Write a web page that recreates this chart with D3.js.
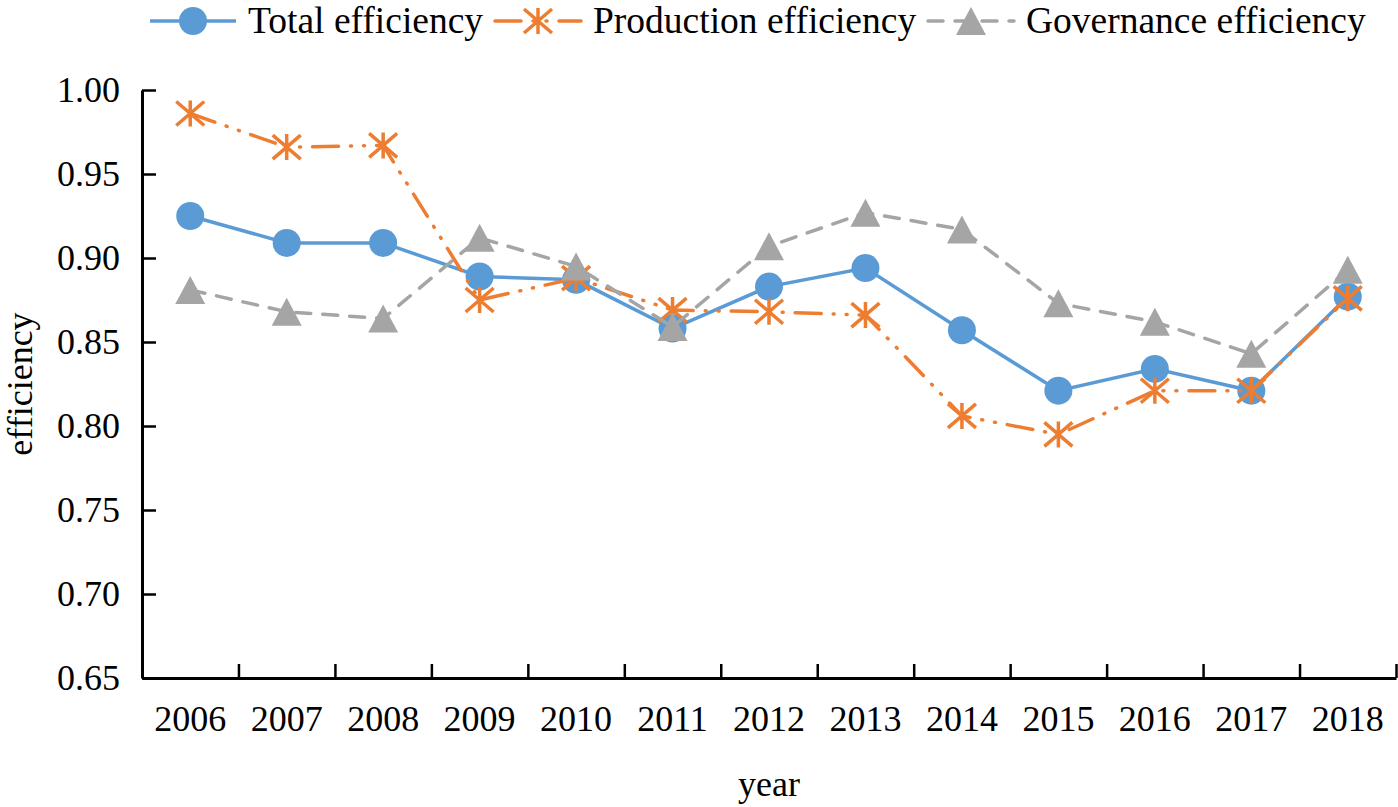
<!DOCTYPE html>
<html>
<head>
<meta charset="utf-8">
<script src="https://cdn.jsdelivr.net/npm/d3@7"></script>
<style>
  body { margin: 0; background: #fff; }
  svg text { font-family: "Liberation Serif", "Times New Roman", serif !important; fill: #000; }
</style>
</head>
<body>
<svg id="graph"></svg>
<script>
// values
var years = ["2006","2007","2008","2009","2010","2011","2012","2013","2014","2015","2016","2017","2018"];
var totalEff = [0.925, 0.909, 0.909, 0.889, 0.887, 0.858, 0.883, 0.894, 0.857, 0.821, 0.834, 0.821, 0.877];
var prodEff  = [0.986, 0.966, 0.967, 0.875, 0.888, 0.869, 0.868, 0.866, 0.806, 0.795, 0.821, 0.821, 0.876];
var govEff   = [0.881, 0.868, 0.864, 0.912, 0.895, 0.859, 0.907, 0.927, 0.917, 0.873, 0.862, 0.843, 0.893];
var yTicks = [0.65, 0.70, 0.75, 0.80, 0.85, 0.90, 0.95, 1.00];

var screen = {width:1398, height:807}
var plot = {left:142, right:1396, top:90, bottom:678}
var serif = "'Liberation Serif', 'Times New Roman', serif"

var svg = d3.select("#graph")
  .attr("width", screen.width)
  .attr("height", screen.height)

var xScale = d3.scaleBand()
  .domain(years)
  .range([plot.left, plot.right])
  .padding(0)

var edgeScale = d3.scaleLinear()
  .domain([0, years.length])
  .range([plot.left, plot.right])

var yScale = d3.scaleLinear()
  .domain([0.65, 1.00])
  .range([plot.bottom, plot.top])

// marker shapes
var starPath = "M0,-13L0,13M-14,-12L14,12M-14,12L14,-12"
var triPath = "M0,-14L15,14L-15,14Z"

var series = [
  {name:"Total efficiency", values:totalEff, color:"#5B9BD5", dash:null, marker:"circle"},
  {name:"Production efficiency", values:prodEff, color:"#ED7D31", dash:"26,12,1,12,1,12", marker:"star"},
  {name:"Governance efficiency", values:govEff, color:"#A5A5A5", dash:"15,12", marker:"triangle"}
]

var drawMarker = function(g, s)
{
  if (s.marker == "circle") {
    g.append("circle").attr("r", 14).attr("fill", s.color)
  } else if (s.marker == "star") {
    g.append("path").attr("d", starPath)
      .attr("fill", "none").attr("stroke", s.color).attr("stroke-width", 3.5)
  } else {
    g.append("path").attr("d", triPath).attr("fill", s.color)
  }
}

// axes
var yAxis = d3.axisLeft(yScale)
  .tickValues(yTicks)
  .tickFormat(d3.format(".2f"))
  .tickSizeInner(-14)
  .tickSizeOuter(0)
  .tickPadding(22)

var yG = svg.append("g")
  .attr("transform", "translate(" + plot.left + ",0)")
  .call(yAxis)

var xTicks = d3.axisTop(edgeScale)
  .tickValues(d3.range(1, years.length + 1))
  .tickFormat("")
  .tickSizeInner(14)
  .tickSizeOuter(0)

var xG = svg.append("g")
  .attr("transform", "translate(0," + plot.bottom + ")")
  .call(xTicks)

var xLabels = d3.axisBottom(xScale)
  .tickSize(0)
  .tickPadding(27)

var xL = svg.append("g")
  .attr("transform", "translate(0," + plot.bottom + ")")
  .call(xLabels)
xL.select(".domain").remove()

svg.selectAll("g").attr("font-family", serif)
svg.selectAll(".domain").attr("stroke", "#000").attr("stroke-width", 3)
svg.selectAll(".tick line").attr("stroke", "#000").attr("stroke-width", 2.5)
svg.selectAll(".tick text").attr("font-size", 36).attr("fill", "#000")

// axis titles
svg.append("text")
  .text("year")
  .attr("text-anchor", "middle")
  .attr("x", 769)
  .attr("y", 796)
  .attr("font-family", serif)
  .attr("font-size", 36)

svg.append("text")
  .text("efficiency")
  .attr("text-anchor", "middle")
  .attr("transform", "translate(32," + ((plot.top + plot.bottom) / 2) + ") rotate(-90)")
  .attr("font-family", serif)
  .attr("font-size", 36)

// lines and markers
var lineGen = d3.line()
  .x(function(d, i) { return xScale(years[i]) + xScale.bandwidth() / 2 })
  .y(function(d) { return yScale(d) })

series.forEach(function(s)
{
  svg.append("path")
    .datum(s.values)
    .attr("fill", "none")
    .attr("stroke", s.color)
    .attr("stroke-width", 3.5)
    .attr("stroke-dasharray", s.dash)
    .attr("stroke-linecap", s.dash ? "round" : "butt")
    .attr("d", lineGen)

  svg.append("g")
    .selectAll("g")
    .data(s.values)
    .enter()
    .append("g")
    .attr("transform", function(d, i) {
      return "translate(" + (xScale(years[i]) + xScale.bandwidth() / 2) + "," + yScale(d) + ")"
    })
    .each(function() { drawMarker(d3.select(this), s) })
})

// legend
var legendX = [150, 495, 928]
var legend = svg.append("g")
series.forEach(function(s, i)
{
  var g = legend.append("g").attr("transform", "translate(" + legendX[i] + ",21)")
  g.append("line")
    .attr("x1", 0).attr("x2", 86)
    .attr("stroke", s.color)
    .attr("stroke-width", 3.5)
    .attr("stroke-dasharray", s.dash)
    .attr("stroke-linecap", s.dash ? "round" : "butt")
  drawMarker(g.append("g").attr("transform", "translate(43,0)"), s)
  g.append("text")
    .text(s.name)
    .attr("x", 98)
    .attr("y", 12)
    .attr("font-family", serif)
    .attr("font-size", 37.5)
})
</script>
</body>
</html>
